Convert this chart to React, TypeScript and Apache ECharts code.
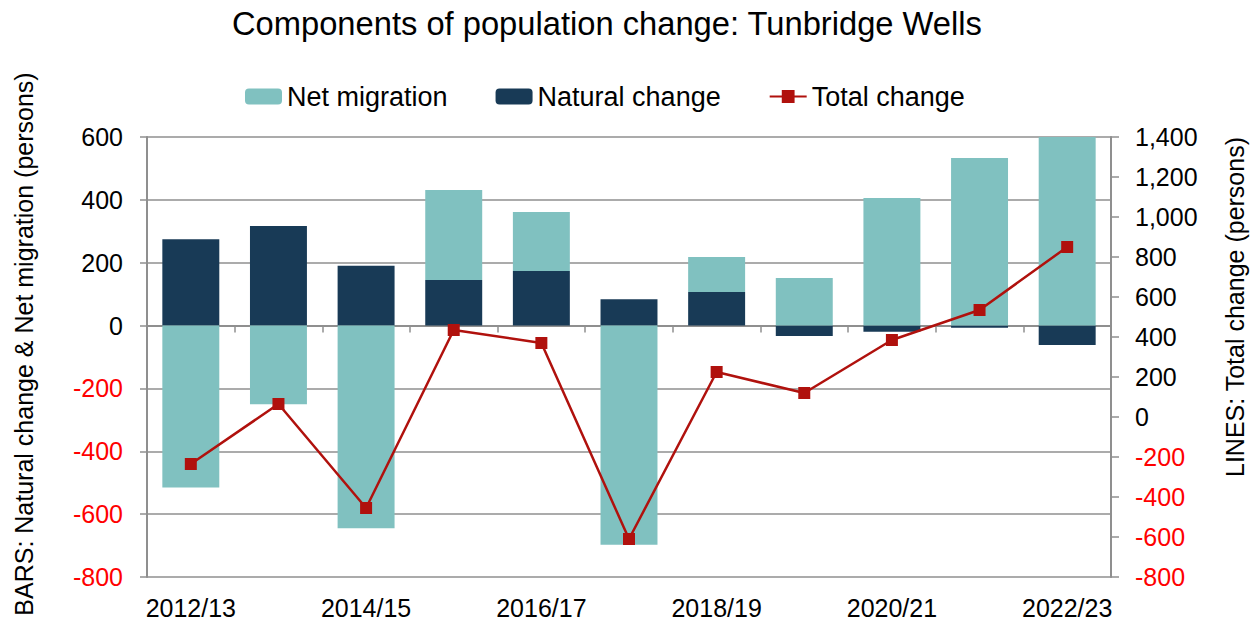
import React, { useEffect, useRef } from "react";
import * as echarts from "echarts";

const categories = ["2012/13", "2013/14", "2014/15", "2015/16", "2016/17", "2017/18", "2018/19", "2019/20", "2020/21", "2021/22", "2022/23"];
const naturalChange = [275, 317, 190, 145, 174, 84, 107, -33, -20, -7, -62];
const netMigration = [-515, -250, -645, 286, 187, -697, 111, 151, 406, 533, 912];
const totalChange = [-235, 65, -455, 435, 370, -610, 225, 120, 385, 535, 850];

const titleText = "Components of population change: Tunbridge Wells";
const leftAxisName = "BARS: Natural change & Net migration (persons)";
const rightAxisName = "LINES: Total change (persons)";

const FONT = "'Liberation Sans', Arial, Helvetica, sans-serif";
const GRAY = "#8f8f8f";

export default function App() {
  const ref = useRef<HTMLDivElement>(null);
  useEffect(() => {
    document.body.style.margin = "0";
    const chart = echarts.init(ref.current!, null, { renderer: "svg" });
    const negColor = (v: any) => (Number(v) < 0 ? "#ff0000" : "#000000");
    chart.setOption({
      animation: false,
      backgroundColor: "#ffffff",
      textStyle: { fontFamily: FONT },
      title: {
        text: titleText,
        left: 227,
        top: 2,
        textStyle: { fontFamily: FONT, fontSize: 32.7, fontWeight: "normal", color: "#000" },
      },
      legend: {
        data: ["Net migration", "Natural change", "Total change"],
        left: 245,
        top: 83,
        padding: 0,
        itemWidth: 37,
        itemHeight: 16,
        itemGap: 48,
        textStyle: { fontFamily: FONT, fontSize: 27, color: "#000" },
      },
      grid: { left: 147, right: 144, top: 137, bottom: 47, containLabel: false },
      xAxis: [
        {
          type: "category",
          data: categories,
          position: "bottom",
          axisLine: { show: false, onZero: false },
          axisTick: { show: false },
          splitLine: { show: false },
          axisLabel: { interval: 1, margin: 18, fontFamily: FONT, fontSize: 25, color: "#000" },
        },
        {
          type: "category",
          data: categories,
          position: "top",
          axisLine: { show: true, onZero: true, onZeroAxisIndex: 0, lineStyle: { color: GRAY, width: 2 } },
          axisTick: { show: true, inside: true, length: 7, lineStyle: { color: GRAY, width: 1.5 } },
          axisLabel: { show: false },
          splitLine: { show: false },
        },
      ],
      yAxis: [
        {
          type: "value",
          position: "left",
          min: -800,
          max: 600,
          interval: 200,
          axisLine: { show: true, lineStyle: { color: GRAY, width: 2 } },
          axisTick: { show: true, length: 7, lineStyle: { color: GRAY, width: 1.5 } },
          splitLine: { show: true, lineStyle: { color: GRAY, width: 1.5 } },
          axisLabel: { margin: 24, fontFamily: FONT, fontSize: 25, color: negColor },
        },
        {
          type: "value",
          position: "right",
          min: -800,
          max: 1400,
          interval: 200,
          axisLine: { show: true, lineStyle: { color: GRAY, width: 2 } },
          axisTick: { show: true, length: 8, lineStyle: { color: GRAY, width: 1.5 } },
          splitLine: { show: false },
          axisLabel: {
            margin: 24,
            fontFamily: FONT,
            fontSize: 25,
            color: negColor,
            formatter: (v: number) => v.toLocaleString("en-US"),
          },
        },
      ],
      graphic: [
        {
          type: "text",
          x: 24,
          y: 344,
          rotation: Math.PI / 2,
          style: { text: leftAxisName, fontFamily: FONT, fontSize: 25, fill: "#000", align: "center", verticalAlign: "middle" },
        },
        {
          type: "text",
          x: 1235,
          y: 307,
          rotation: Math.PI / 2,
          style: { text: rightAxisName, fontFamily: FONT, fontSize: 25, fill: "#000", align: "center", verticalAlign: "middle" },
        },
      ],
      series: [
        {
          name: "Natural change",
          type: "bar",
          stack: "bars",
          xAxisIndex: 0,
          yAxisIndex: 0,
          barWidth: "65%",
          clip: true,
          itemStyle: { color: "#183a56" },
          data: naturalChange,
        },
        {
          name: "Net migration",
          type: "bar",
          stack: "bars",
          xAxisIndex: 0,
          yAxisIndex: 0,
          barWidth: "65%",
          clip: true,
          itemStyle: { color: "#80c1c0" },
          data: netMigration,
        },
        {
          name: "Total change",
          type: "line",
          xAxisIndex: 0,
          yAxisIndex: 1,
          symbol: "rect",
          symbolSize: 12,
          lineStyle: { color: "#b0110d", width: 2.5 },
          itemStyle: { color: "#b0110d" },
          data: totalChange,
          z: 5,
        },
      ],
    });
    return () => chart.dispose();
  }, []);
  return <div ref={ref} style={{ width: 1255, height: 624 }} />;
}
